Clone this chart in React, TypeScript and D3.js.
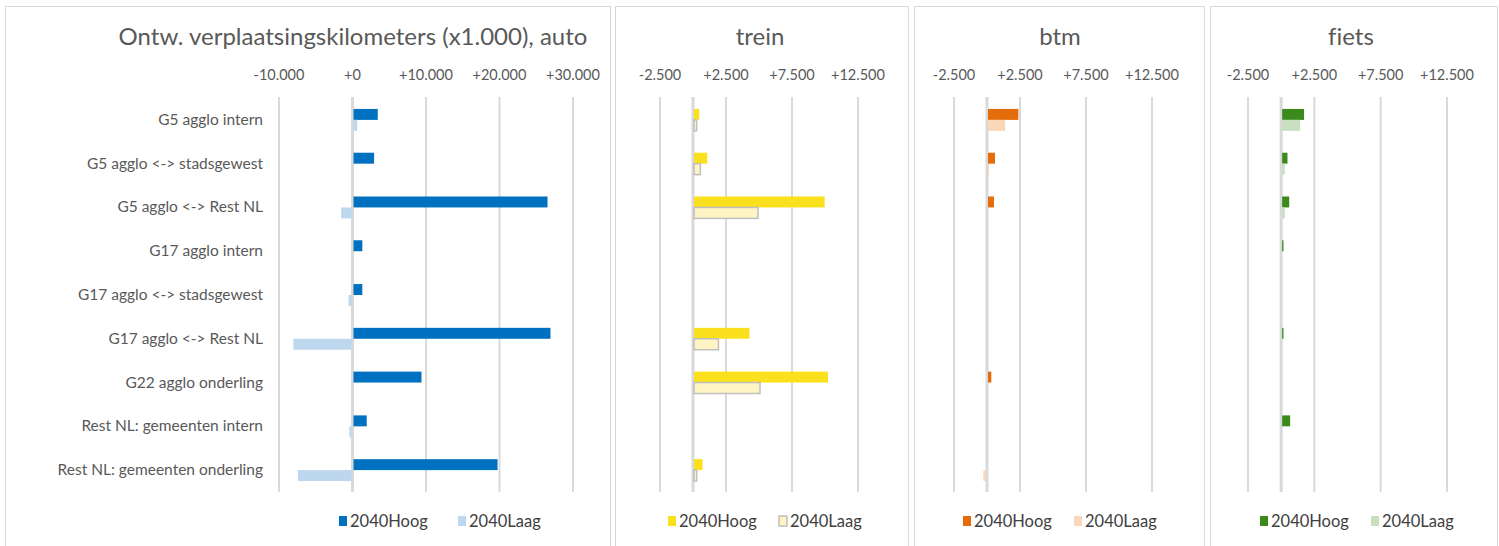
import * as d3 from "d3";

const categories = [
  "G5 agglo intern",
  "G5 agglo <-> stadsgewest",
  "G5 agglo <-> Rest NL",
  "G17 agglo intern",
  "G17 agglo <-> stadsgewest",
  "G17 agglo <-> Rest NL",
  "G22 agglo onderling",
  "Rest NL: gemeenten intern",
  "Rest NL: gemeenten onderling",
];

const seriesNames = ["2040Hoog", "2040Laag"];

// auto (x1.000 km)
const autoHoog = [3300, 2800, 26400, 1200, 1200, 26800, 9250, 1800, 19600];
const autoLaag = [500, 0, -1400, 0, -400, -7900, 0, -300, -7300];

const treinHoog = [400, 1000, 9900, 0, 0, 4200, 10150, 0, 650];
const treinLaag = [200, 480, 4850, 0, 0, 1850, 5000, 0, 200];

const btmHoog = [2300, 530, 450, 0, 0, 0, 250, 0, 0];
const btmLaag = [1300, 80, 0, 0, 0, 0, 0, 0, -200];

const fietsHoog = [1650, 400, 530, 100, 0, 100, 0, 600, 0];
const fietsLaag = [1350, 200, 200, 0, 0, 0, 0, 0, 0];

const autoTicks = [-10000, 0, 10000, 20000, 30000];
const otherTicks = [-2500, 2500, 7500, 12500];

const nl = d3.formatLocale({
  decimal: ",",
  thousands: ".",
  grouping: [3],
  currency: ["", ""],
  minus: "-",
});
const fmt = nl.format("+,");

const FONT = "Lato, 'Open Sans', sans-serif";
const GRID = "#D9D9D9";
const TEXT = "#595959";

const panels = [
  {
    title: "Ontw. verplaatsingskilometers (x1.000), auto",
    frame: [5, 610],
    titleX: 353,
    domain: [-10000, 30000],
    range: [279, 573],
    ticks: autoTicks,
    hoog: autoHoog,
    laag: autoLaag,
    colors: ["#0070C0", "#BDD7EE"],
    laagStroke: "none",
    legendX: 339,
    labels: true,
  },
  {
    title: "trein",
    frame: [615, 908],
    titleX: 760,
    domain: [-2500, 12500],
    range: [660, 858],
    ticks: otherTicks,
    hoog: treinHoog,
    laag: treinLaag,
    colors: ["#FBE01E", "#FFF5C4"],
    laagStroke: "#BFBFBF",
    legendX: 668,
    labels: false,
  },
  {
    title: "btm",
    frame: [914, 1204],
    titleX: 1060,
    domain: [-2500, 12500],
    range: [954, 1152],
    ticks: otherTicks,
    hoog: btmHoog,
    laag: btmLaag,
    colors: ["#E46C0A", "#F9D7B8"],
    laagStroke: "none",
    legendX: 963,
    labels: false,
  },
  {
    title: "fiets",
    frame: [1210, 1497],
    titleX: 1351,
    domain: [-2500, 12500],
    range: [1248, 1447],
    ticks: otherTicks,
    hoog: fietsHoog,
    laag: fietsLaag,
    colors: ["#3A8A1C", "#C8E0BD"],
    laagStroke: "none",
    legendX: 1260,
    labels: false,
  },
];

const y = d3.scaleBand<string>().domain(categories).range([98, 492]);
const barH = y.bandwidth() * 0.25;

function Panel({ p }: any) {
  const x = d3.scaleLinear().domain(p.domain).range(p.range);
  const x0 = x(0);
  const bar = (v: number) => ({ x: Math.min(x(v), x0), w: Math.abs(x(v) - x0) });
  const gap = p.labels ? 119 : 111;
  return (
    <g>
      <rect x={p.frame[0] + 0.5} y={6.5} width={p.frame[1] - p.frame[0]} height={545} fill="#fff" stroke={GRID} />
      <text x={p.titleX} y={45} textAnchor="middle" fontSize={24} fill={TEXT}
        style={{ fontVariantLigatures: "none" }}>{p.title}</text>
      {p.ticks.map((t: number) => (
        <g key={t}>
          <line x1={x(t)} x2={x(t)} y1={97} y2={492} stroke={GRID} strokeWidth={2} />
          <text x={x(t)} y={80} textAnchor="middle" fontSize={14.5} fill={TEXT}>{fmt(t)}</text>
        </g>
      ))}
      <line x1={x0} x2={x0} y1={97} y2={492} stroke={GRID} strokeWidth={3} />
      {categories.map((c, i) => {
        const cy = (y(c) as number) + y.bandwidth() / 2;
        const h = bar(p.hoog[i]);
        const l = bar(p.laag[i]);
        return (
          <g key={c}>
            {p.labels && (
              <text x={263} y={cy + 5} textAnchor="end" fontSize={15.5} fill={TEXT}>{c}</text>
            )}
            {h.w > 0 && <rect x={h.x + 1} y={cy - barH} width={h.w} height={barH} fill={p.colors[0]} />}
            {l.w > 0 && (
              <rect x={l.x + (p.laag[i] > 0 ? 1 : -1)} y={cy} width={l.w} height={barH} fill={p.colors[1]}
                stroke={p.laagStroke} strokeWidth={p.laagStroke === "none" ? 0 : 1.5} />
            )}
          </g>
        );
      })}
      {seriesNames.map((s, i) => (
        <g key={s} transform={`translate(${p.legendX + i * gap},0)`}>
          <rect x={0} y={516} width={8} height={10} fill={p.colors[i]}
            stroke={i === 1 ? p.laagStroke : "none"} strokeWidth={1.5} />
          <text x={11} y={527} fontSize={16.5} fill="#404040">{s}</text>
        </g>
      ))}
    </g>
  );
}

export default function App() {
  return (
    <svg width={1499} height={546} style={{ position: "fixed", left: 0, top: 0, background: "#fff" }}
      fontFamily={FONT}>
      <rect width={1499} height={546} fill="#fff" />
      {panels.map((p) => <Panel key={p.title} p={p} />)}
    </svg>
  );
}
